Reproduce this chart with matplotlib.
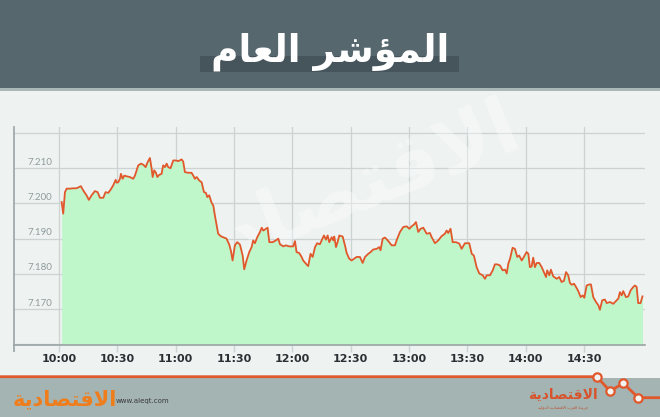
import matplotlib
matplotlib.use("Agg")
import matplotlib.pyplot as plt
from matplotlib.patches import Rectangle
from matplotlib.lines import Line2D

# ---------------- data ----------------
title_text = "المؤشر العام"
# visual (pre-shaped) forms, matplotlib has no Arabic shaping
title_shaped = "\uFEE1\uFE8E\uFECC\uFEDF\uFE8D \uFEAE\uFEB7\uFE86\uFEE4\uFEDF\uFE8D"
brand_shaped = "\uFE94\uFEF3\uFEA9\uFE8E\uFEBC\uFE98\uFED7\uFEFB\uFE8D"
subtitle_shaped = ("\uFE94\uFEF4\uFEDF\uFEED\uFEAA\uFEDF\uFE8D " + brand_shaped +
                   " \uFE8F\uFEAE\uFECC\uFEDF\uFE8D \uFE93\uFEAA\uFEF3\uFEAE\uFE9F")
site_text = "www.aleqt.com"

tick_labels = ["10:00", "10:30", "11:00", "11:30", "12:00", "12:30",
               "13:00", "13:30", "14:00", "14:30"]
tick_minutes = [0, 30, 60, 90, 120, 150, 180, 210, 240, 270]
y_label_values = [7.170, 7.180, 7.190, 7.200, 7.210]
grid_values = [7.160, 7.170, 7.180, 7.190, 7.200, 7.210, 7.220]

# minutes after 10:00
minutes = [1.4,2.2,3.1,4.0,5.7,7.4,9.1,11.3,12.5,14.2,15.4,16.8,18.5,19.9,21.1,22.8,24.0,25.4,26.7,27.9,
           29.2,29.7,30.5,31.4,31.9,32.8,33.6,34.8,36.5,38.2,39.1,40.0,40.8,42.2,43.4,44.6,45.6,46.8,47.7,48.2,
           49.0,49.9,50.6,51.6,52.8,53.6,54.5,55.4,56.2,57.4,58.8,60.2,61.4,63.1,63.9,64.8,66.5,68.2,69.1,69.9,
           70.8,72.2,73.4,74.6,75.6,76.3,77.3,78.5,79.4,80.2,81.1,81.9,83.2,84.9,86.2,87.6,88.5,89.3,90.5,91.7,
           93.1,94.5,95.3,96.5,97.9,99.1,99.9,100.8,102.0,103.4,104.3,105.1,106.5,107.3,108.2,109.9,111.6,112.8,113.7,115.4,
           116.7,118.4,120.5,121.4,122.2,123.6,124.8,125.6,127.0,128.2,129.4,130.5,131.7,132.8,134.2,135.1,136.3,137.3,138.2,139.0,
           140.3,141.1,141.6,142.5,143.3,144.2,145.9,147.1,148.0,149.3,150.5,153.1,154.8,156.2,157.4,159.1,160.3,161.6,163.4,164.7,
           165.4,166.5,167.7,169.4,171.1,172.8,174.0,175.4,177.1,178.8,180.2,181.4,182.6,183.6,184.8,186.0,187.4,189.1,190.8,191.7,
           193.4,195.1,196.8,198.5,199.4,200.2,201.4,202.5,204.2,205.9,207.1,208.8,211.0,212.3,213.4,214.8,216.2,217.9,219.1,220.0,
           221.7,223.1,224.2,225.4,226.8,228.2,229.4,230.3,231.1,232.0,233.3,234.5,235.7,236.7,238.0,239.1,240.5,241.4,242.2,243.1,
           243.9,244.8,245.7,247.0,248.3,249.4,250.5,251.1,252.2,253.0,254.2,256.0,257.3,258.5,259.7,260.8,261.9,262.8,263.7,264.9,
           265.9,267.1,268.3,269.4,270.2,271.4,272.8,273.6,274.8,276.2,277.4,278.2,279.4,280.8,281.7,283.4,285.1,286.8,287.7,288.5,
           289.4,290.2,291.6,292.8,294.0,295.4,296.2,297.1,297.9,299.1,300.1]

index_values = [7.2004,7.1971,7.2032,7.2042,7.2042,7.2043,7.2043,7.2049,7.2037,7.2023,
                7.2010,7.2023,7.2035,7.2032,7.2016,7.2016,7.2032,7.2030,7.2040,7.2051,
                7.2067,7.2059,7.2060,7.2070,7.2084,7.2070,7.2079,7.2077,7.2075,7.2070,
                7.2079,7.2094,7.2108,7.2113,7.2110,7.2103,7.2117,7.2129,7.2098,7.2075,
                7.2094,7.2087,7.2075,7.2081,7.2084,7.2108,7.2103,7.2113,7.2103,7.2100,
                7.2122,7.2122,7.2120,7.2125,7.2119,7.2089,7.2087,7.2087,7.2079,7.2070,
                7.2075,7.2065,7.2060,7.2032,7.2030,7.2018,7.2023,7.2002,7.1994,7.1966,
                7.1938,7.1914,7.1907,7.1903,7.1900,7.1883,7.1864,7.1838,7.1881,7.1890,
                7.1883,7.1852,7.1813,7.1838,7.1862,7.1876,7.1895,7.1887,7.1904,7.1919,
                7.1931,7.1923,7.1928,7.1931,7.1890,7.1890,7.1895,7.1900,7.1884,7.1878,
                7.1881,7.1878,7.1878,7.1893,7.1862,7.1859,7.1848,7.1838,7.1829,7.1822,
                7.1857,7.1848,7.1876,7.1887,7.1884,7.1895,7.1909,7.1897,7.1909,7.1890,
                7.1904,7.1895,7.1906,7.1876,7.1890,7.1909,7.1906,7.1881,7.1859,7.1843,
                7.1838,7.1848,7.1848,7.1831,7.1848,7.1857,7.1862,7.1869,7.1871,7.1876,
                7.1867,7.1900,7.1903,7.1893,7.1881,7.1881,7.1900,7.1919,7.1933,7.1935,
                7.1928,7.1935,7.1940,7.1947,7.1919,7.1928,7.1931,7.1914,7.1916,7.1904,
                7.1887,7.1895,7.1907,7.1914,7.1923,7.1916,7.1928,7.1890,7.1890,7.1886,
                7.1871,7.1887,7.1887,7.1857,7.1852,7.1819,7.1801,7.1796,7.1786,7.1796,
                7.1796,7.1810,7.1827,7.1827,7.1824,7.1810,7.1812,7.1801,7.1829,7.1843,
                7.1874,7.1871,7.1848,7.1852,7.1838,7.1848,7.1862,7.1857,7.1819,7.1821,
                7.1846,7.1819,7.1831,7.1831,7.1819,7.1805,7.1791,7.1810,7.1796,7.1812,
                7.1793,7.1786,7.1791,7.1777,7.1780,7.1805,7.1796,7.1774,7.1769,7.1772,
                7.1763,7.1751,7.1734,7.1739,7.1732,7.1767,7.1770,7.1770,7.1734,7.1720,
                7.1711,7.1698,7.1725,7.1727,7.1717,7.1720,7.1715,7.1725,7.1730,7.1748,
                7.1739,7.1751,7.1734,7.1736,7.1753,7.1763,7.1767,7.1763,7.1717,7.1717,7.1736]

# ---------------- style ----------------
PAGE = "#eef2f1"
HEADER = "#56676e"
FOOTER = "#a3b4b2"
ORANGE = "#e0582b"
FILL = "#bff7cb"
GRID = "#ccd3d3"

W, H = 660, 417
fig = plt.figure(figsize=(W / 100, H / 100), dpi=100, facecolor=PAGE)

# background / decoration layer in pixel coordinates
bg = fig.add_axes([0, 0, 1, 1], zorder=0)
bg.set_xlim(0, W)
bg.set_ylim(H, 0)
bg.axis("off")
bg.add_patch(Rectangle((0, 0), W, 88, color=HEADER, lw=0))
bg.add_patch(Rectangle((0, 88), W, 3, color="#a9b7b7", lw=0))
bg.add_patch(Rectangle((200, 56), 259, 16, color="#46555c", lw=0))
bg.text(330, 52, title_shaped, color="white", fontsize=27, fontweight="bold",
        family="DejaVu Sans", ha="center", va="center")

# footer
bg.add_patch(Rectangle((0, 378), W, H - 378, color=FOOTER, lw=0))
zx = [0, 596.7, 610, 623.3, 638.3, W]
zy = [376.7, 376.7, 391, 383.3, 397.7, 397.7]
bg.add_line(Line2D(zx, zy, color=ORANGE, lw=2, solid_joinstyle="round"))
bg.plot(zx[1:5], zy[1:5], "o", ms=6, mfc="#f3f3f1", mec=ORANGE, mew=1.6)
bg.text(65, 399, brand_shaped, fontsize=15, fontweight="bold", color="#f07d1c",
        family="DejaVu Sans", ha="center", va="center", zorder=3)
bg.text(116, 401, site_text, fontsize=5, color="#3a3a3a", ha="left", va="center", zorder=2)
bg.text(563, 395, brand_shaped, fontsize=10, fontweight="bold", color="#d8532b",
        family="DejaVu Sans", ha="center", va="center")
bg.text(563, 407, subtitle_shaped, fontsize=2.8, color="#c0502b",
        family="DejaVu Sans", ha="center", va="center")

# ---------------- main chart ----------------
x0, x1 = -23.1, 301.4
y0, y1 = 7.1598, 7.2217
ax = fig.add_axes([14 / W, 1 - 345 / H, 631 / W, 218 / H], zorder=1)
ax.patch.set_visible(False)
ax.set_xlim(x0, x1)
ax.set_ylim(y0, y1)
ax.set_axisbelow(True)

ax.set_yticks(grid_values)
ax.tick_params(axis="y", length=0, labelleft=False)
ax.set_xticks(tick_minutes)
ax.set_xticklabels(tick_labels)
ax.set_xticks([x0], minor=True)
ax.tick_params(axis="x", which="major", direction="out", length=5, width=1, color=GRID,
               labelsize=8, labelcolor="#2b2f33", pad=1.5)
ax.tick_params(axis="x", which="minor", direction="out", length=5, width=1.2, color="#9aa5a5")
for lab in ax.get_xticklabels():
    lab.set_fontweight("bold")
ax.grid(True, color=GRID, lw=0.9)

for side in ("top", "right"):
    ax.spines[side].set_visible(False)
for side in ("left", "bottom"):
    ax.spines[side].set_color("#9aa5a5")
    ax.spines[side].set_linewidth(1.2)

# watermark
ax.text(0.51, 0.68, brand_shaped, transform=ax.transAxes, rotation=22, fontsize=56,
        fontweight="bold", color="white", alpha=0.36, ha="center", va="center",
        family="DejaVu Sans", zorder=1.5, clip_on=False)

ax.fill_between(minutes, index_values, y0, color=FILL, lw=0, zorder=2)
ax.plot(minutes, index_values, color=ORANGE, lw=1.3, zorder=3)

for v in y_label_values:
    ax.text(-3.6, v + 0.0004, f"{v:.3f}", ha="right", va="bottom", fontsize=7,
            color="#8e9b9b", family="Lato", zorder=4)

fig.savefig("out.png", dpi=100, facecolor=PAGE)
